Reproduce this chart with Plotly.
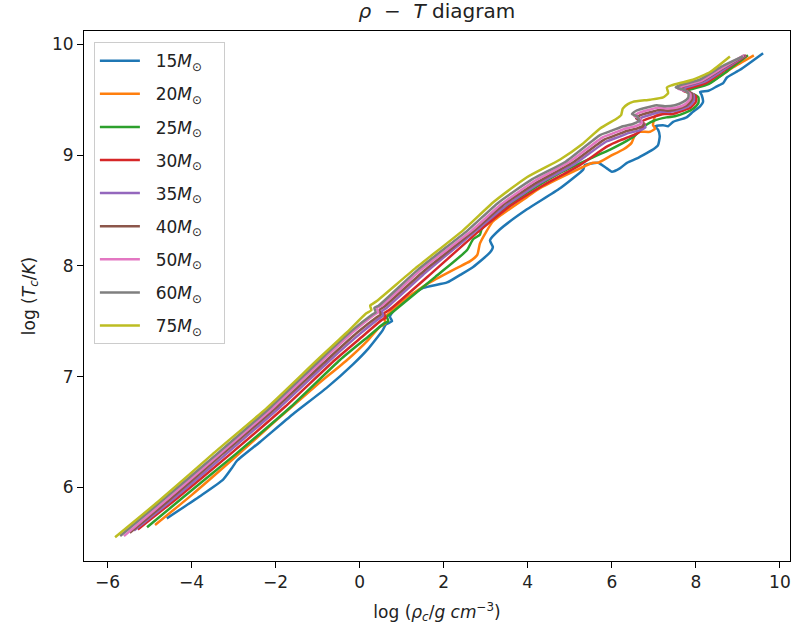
import plotly.graph_objects as go

masses = ["15", "20", "25", "30", "35", "40", "50", "60", "75"]
colors = ["#1f77b4", "#ff7f0e", "#2ca02c", "#d62728", "#9467bd",
          "#8c564b", "#e377c2", "#7f7f7f", "#bcbd22"]

# log rho_c, log T_c tracks for each mass
rho_15 = [-4.59, -3.8, -3.25, -3.05, -2.92, -2.37, -1.59, -0.78, -0.16, 0.20, 0.55, 0.62, 0.77, 0.72, 0.82,
          1.10, 1.51, 2.08, 2.40, 2.70, 3.10, 3.17, 3.10, 3.34, 3.98, 4.77, 5.32, 5.36, 5.67, 5.88, 6.00,
          6.19, 6.36, 6.60, 6.84, 6.98, 7.10, 7.14, 7.10, 7.03, 7.22, 7.34, 7.46, 7.78, 7.93, 8.10, 8.17,
          8.14, 8.10, 8.30, 8.50, 8.65, 8.74, 9.05, 9.60]
T_15 = [5.72, 5.92, 6.07, 6.17, 6.24, 6.41, 6.66, 6.90, 7.11, 7.25, 7.42, 7.47, 7.50, 7.54, 7.60,
        7.70, 7.80, 7.85, 7.92, 7.99, 8.12, 8.17, 8.23, 8.33, 8.51, 8.70, 8.87, 8.91, 8.93, 8.88, 8.85,
        8.88, 8.93, 8.97, 9.02, 9.05, 9.09, 9.17, 9.23, 9.26, 9.27, 9.26, 9.30, 9.34, 9.39, 9.44, 9.48,
        9.54, 9.57, 9.58, 9.62, 9.65, 9.70, 9.77, 9.92]

rho_20 = [-4.87, -4.0, -3.0, -2.0, -1.0, -0.30, 0.20, 0.48, 0.62, 0.58, 0.72, 1.04, 1.67, 2.31, 2.62,
          2.80, 2.86, 3.00, 3.17, 3.98, 4.29, 5.08, 5.55, 5.67, 5.96, 6.27, 6.47, 6.55, 6.67, 6.91, 7.03,
          6.98, 7.03, 7.14, 7.31, 7.62, 7.78, 7.86, 7.90, 7.86, 7.72, 7.80, 8.02, 8.26, 8.65, 8.88, 9.38]
T_20 = [5.66, 5.93, 6.26, 6.60, 6.93, 7.15, 7.33, 7.45, 7.48, 7.53, 7.58, 7.69, 7.85, 7.98, 8.04,
        8.10, 8.20, 8.30, 8.40, 8.62, 8.70, 8.85, 8.93, 8.93, 8.99, 9.05, 9.11, 9.18, 9.21, 9.21, 9.24,
        9.27, 9.35, 9.37, 9.40, 9.41, 9.44, 9.48, 9.53, 9.57, 9.58, 9.61, 9.62, 9.64, 9.73, 9.79, 9.90]

rho_25 = [-5.06, -4.2, -2.95, -1.63, -0.47, 0.20, 0.58, 0.68, 0.65, 0.78, 1.80, 2.55, 2.70, 2.86, 2.90,
          3.17, 3.98, 4.77, 5.55, 5.96, 6.27, 6.50, 6.62, 6.75, 6.85, 7.00, 7.30, 7.50, 7.74, 7.94, 8.06,
          8.06, 7.94, 7.76, 7.86, 8.30, 8.75, 9.24]
T_25 = [5.64, 5.91, 6.30, 6.73, 7.15, 7.36, 7.48, 7.50, 7.54, 7.58, 7.90, 8.14, 8.24, 8.28, 8.33,
        8.44, 8.66, 8.84, 8.98, 9.05, 9.11, 9.16, 9.20, 9.25, 9.28, 9.31, 9.34, 9.35, 9.38, 9.42, 9.47,
        9.52, 9.55, 9.57, 9.59, 9.64, 9.76, 9.90]

rho_30 = [-5.28, -4.35, -3.08, -1.77, -0.59, 0.12, 0.52, 0.62, 0.58, 0.70, 1.70, 2.86, 3.58, 4.38, 5.20,
          5.90, 6.18, 6.45, 6.62, 6.72, 6.78, 6.70, 6.80, 6.95, 7.25, 7.44, 7.68, 7.88, 8.00, 8.00, 7.88,
          7.70, 7.80, 8.24, 8.70, 9.20]
T_30 = [5.62, 5.90, 6.30, 6.73, 7.15, 7.38, 7.51, 7.53, 7.57, 7.60, 7.93, 8.32, 8.54, 8.73, 8.90,
        9.08, 9.13, 9.17, 9.20, 9.24, 9.28, 9.30, 9.32, 9.34, 9.37, 9.37, 9.40, 9.43, 9.48, 9.53, 9.56,
        9.58, 9.60, 9.65, 9.77, 9.90]

rho_35 = [-5.37, -4.45, -3.18, -1.88, -0.70, 0.02, 0.48, 0.56, 0.53, 0.64, 1.60, 2.78, 3.50, 4.30, 5.12,
          5.86, 6.14, 6.41, 6.64, 6.80, 6.74, 6.62, 6.72, 6.88, 7.20, 7.39, 7.63, 7.83, 7.95, 7.95, 7.83,
          7.65, 7.75, 8.20, 8.66, 9.18]
T_35 = [5.61, 5.89, 6.30, 6.73, 7.15, 7.39, 7.53, 7.55, 7.59, 7.62, 7.95, 8.32, 8.55, 8.75, 8.92,
        9.12, 9.16, 9.20, 9.22, 9.25, 9.29, 9.31, 9.34, 9.36, 9.39, 9.39, 9.41, 9.44, 9.49, 9.54, 9.57,
        9.59, 9.61, 9.66, 9.77, 9.90]

rho_40 = [-5.47, -4.55, -3.27, -1.96, -0.78, -0.05, 0.42, 0.50, 0.47, 0.58, 1.55, 2.73, 3.45, 4.25, 5.06,
          5.82, 6.10, 6.37, 6.60, 6.76, 6.70, 6.58, 6.68, 6.84, 7.16, 7.35, 7.59, 7.79, 7.91, 7.91, 7.79,
          7.61, 7.71, 8.16, 8.63, 9.16]
T_40 = [5.59, 5.88, 6.30, 6.73, 7.15, 7.40, 7.54, 7.56, 7.60, 7.63, 7.96, 8.32, 8.56, 8.76, 8.93,
        9.14, 9.18, 9.22, 9.24, 9.27, 9.31, 9.33, 9.36, 9.38, 9.41, 9.40, 9.42, 9.45, 9.50, 9.55, 9.58,
        9.60, 9.62, 9.67, 9.78, 9.90]

rho_50 = [-5.61, -4.62, -3.33, -2.03, -0.87, -0.13, 0.36, 0.44, 0.41, 0.52, 1.48, 2.67, 3.38, 4.18, 5.00,
          5.78, 6.06, 6.33, 6.56, 6.72, 6.66, 6.54, 6.64, 6.80, 7.12, 7.31, 7.55, 7.75, 7.87, 7.87, 7.75,
          7.57, 7.67, 8.13, 8.60, 9.14]
T_50 = [5.56, 5.88, 6.30, 6.73, 7.15, 7.41, 7.56, 7.58, 7.62, 7.64, 7.97, 8.32, 8.56, 8.77, 8.94,
        9.16, 9.20, 9.24, 9.26, 9.29, 9.33, 9.35, 9.38, 9.40, 9.43, 9.42, 9.43, 9.46, 9.51, 9.55, 9.58,
        9.60, 9.62, 9.67, 9.78, 9.90]

rho_60 = [-5.70, -4.70, -3.40, -2.10, -0.94, -0.20, 0.30, 0.38, 0.35, 0.45, 1.40, 2.57, 3.30, 4.10, 4.90,
          5.72, 6.00, 6.27, 6.50, 6.66, 6.60, 6.48, 6.58, 6.74, 7.07, 7.26, 7.50, 7.70, 7.82, 7.82, 7.70,
          7.52, 7.62, 8.09, 8.57, 9.12]
T_60 = [5.56, 5.88, 6.30, 6.73, 7.15, 7.41, 7.56, 7.58, 7.62, 7.64, 7.97, 8.32, 8.57, 8.78, 8.94,
        9.18, 9.22, 9.26, 9.28, 9.31, 9.35, 9.37, 9.40, 9.42, 9.45, 9.44, 9.45, 9.48, 9.52, 9.56, 9.59,
        9.61, 9.63, 9.68, 9.79, 9.89]

rho_75 = [-5.82, -4.80, -3.50, -2.20, -1.01, -0.30, 0.15, 0.28, 0.25, 0.40, 1.30, 2.46, 3.20, 3.98, 4.77,
          5.30, 5.72, 6.12, 6.22, 6.26, 6.38, 6.50, 6.91, 7.22, 7.34, 7.31, 7.43, 7.62, 7.93, 8.34, 8.81]
T_75 = [5.55, 5.87, 6.30, 6.72, 7.15, 7.40, 7.57, 7.60, 7.64, 7.68, 7.97, 8.32, 8.58, 8.80, 8.96,
        9.10, 9.24, 9.33, 9.36, 9.42, 9.46, 9.48, 9.50, 9.52, 9.56, 9.61, 9.63, 9.65, 9.68, 9.75, 9.89]

rhos = [rho_15, rho_20, rho_25, rho_30, rho_35, rho_40, rho_50, rho_60, rho_75]
temps = [T_15, T_20, T_25, T_30, T_35, T_40, T_50, T_60, T_75]

x_ticks = [-6, -4, -2, 0, 2, 4, 6, 8, 10]
y_ticks = [6, 7, 8, 9, 10]

FONT = "DejaVu Sans"
TXT = "#222222"
NB = "\u00a0"

fig = go.Figure()
for m, c, xr, yt in zip(masses, colors, rhos, temps):
    fig.add_trace(go.Scatter(
        x=xr, y=yt, mode="lines",
        line=dict(color=c, width=2.5, shape="spline", smoothing=0.5),
        name=f"{NB}{NB}{m}<i>M</i><sub>⊙</sub>{NB}{NB}{NB}",
        legendgroup=m,
    ))

axis_common = dict(
    showline=True, linecolor="black", linewidth=1, mirror=True,
    ticks="outside", ticklen=6, tickwidth=1, tickcolor="black",
    showgrid=False, zeroline=False,
    tickfont=dict(family=FONT, size=17, color=TXT),
)

fig.update_layout(
    width=791, height=634,
    margin=dict(l=84, r=1, t=31, b=73),
    paper_bgcolor="white", plot_bgcolor="white",
    font=dict(family=FONT, color=TXT),
    title=dict(text="<i>ρ</i>  −  <i>T</i> diagram", x=0.5523, xanchor="center",
               y=0.982, yanchor="middle", font=dict(family=FONT, size=20, color=TXT)),
    xaxis=dict(range=[-6.56, 10.24], tickvals=x_ticks,
               ticktext=[str(v).replace("-", "−") for v in x_ticks],
               title=dict(text="log (<i>ρ</i><sub><i>c</i></sub>/<i>g cm</i><sup>−3</sup>)",
                          font=dict(family=FONT, size=17, color=TXT), standoff=14),
               **axis_common),
    yaxis=dict(range=[5.335, 10.12], tickvals=y_ticks,
               ticktext=[str(v) for v in y_ticks],
               title=dict(text="log (<i>T</i><sub><i>c</i></sub>/<i>K</i>)",
                          font=dict(family=FONT, size=17, color=TXT), standoff=12),
               **axis_common),
    legend=dict(x=0.014, y=0.979, xanchor="left", yanchor="top",
                bgcolor="white", bordercolor="#cccccc", borderwidth=1,
                font=dict(family=FONT, size=17, color=TXT),
                traceorder="grouped", tracegroupgap=8, itemwidth=40),
    showlegend=True,
)

fig.write_html("out.html")
